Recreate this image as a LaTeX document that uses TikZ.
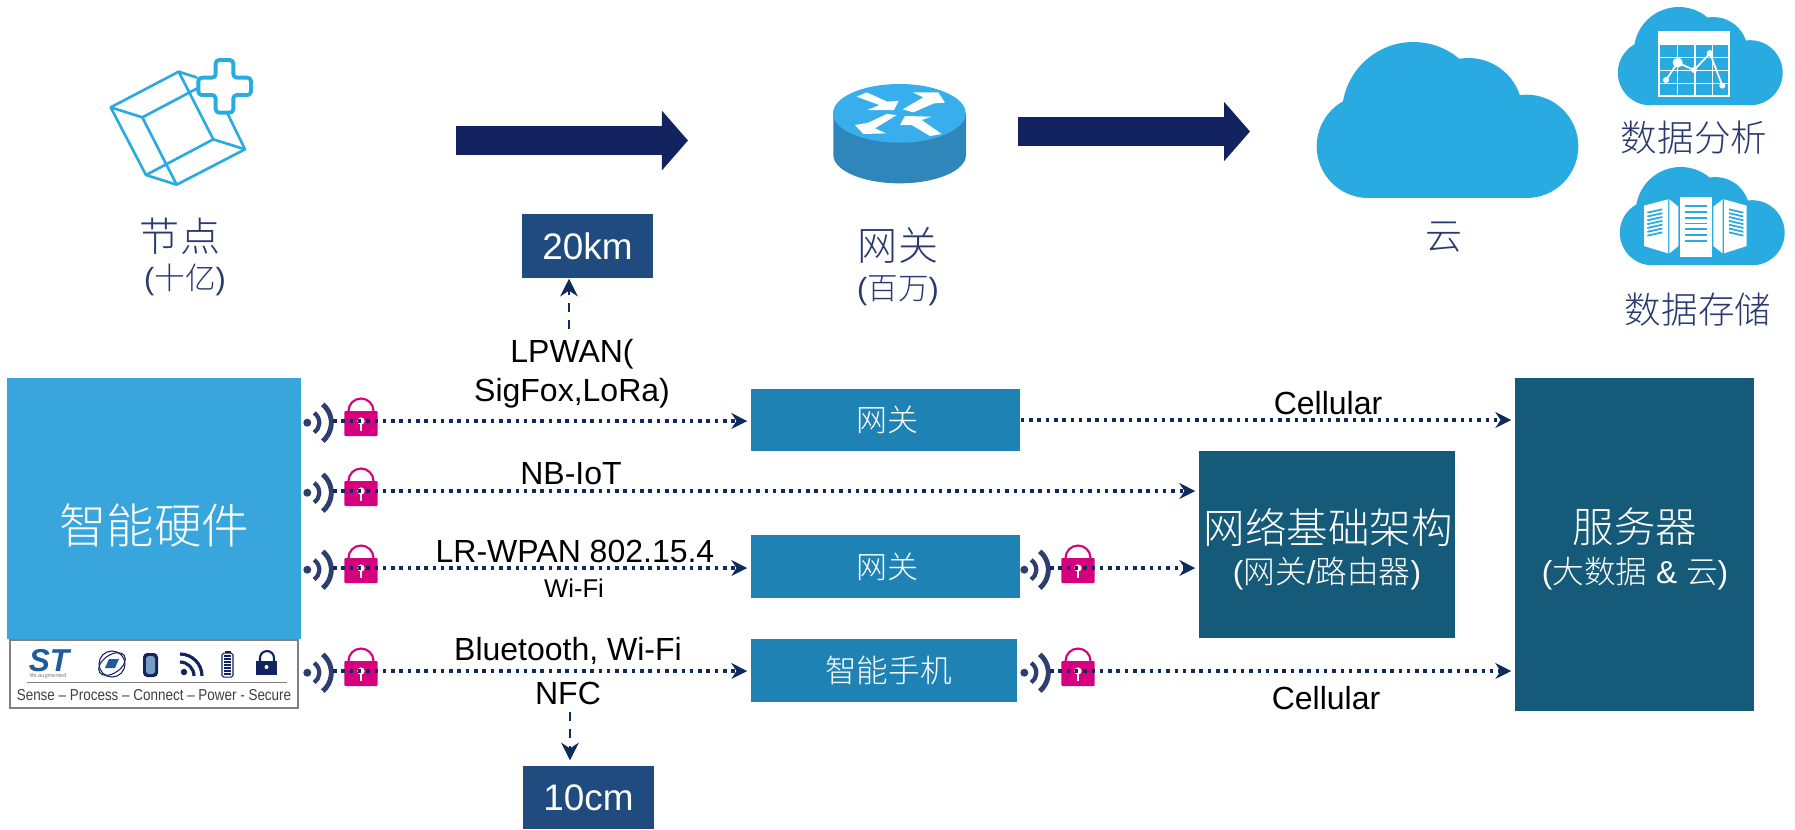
\documentclass[tikz,border=0pt]{standalone}
\usepackage{fontspec}
\setmainfont{Liberation Sans}
\newfontfamily\cjk[UprightFont={* Light}]{Noto Sans CJK SC}
\usetikzlibrary{arrows.meta, positioning, fit}
\definecolor{hwblue}{HTML}{38A6DC}
\definecolor{gwblue}{HTML}{1F82B4}
\definecolor{srvblue}{HTML}{155A78}
\definecolor{kmblue}{HTML}{1F4B7E}
\definecolor{navy}{HTML}{12235F}
\definecolor{dotnavy}{HTML}{0F2A5C}
\definecolor{cloudblue}{HTML}{29ABE2}
\definecolor{lockpink}{HTML}{D6007F}
\definecolor{wavegray}{HTML}{2E3F6E}
\definecolor{slate}{HTML}{2A3A70}
\definecolor{routertop}{HTML}{38AEEC}
\definecolor{routerside}{HTML}{2E86BB}
\definecolor{stblue}{HTML}{1F5C99}
\newcommand{\fsz}[1]{\fontsize{#1}{#1}\selectfont}
\tikzset{
    box/.style={draw=none,inner sep=0pt,align=center,text=white},
    boxtxt/.style={inner sep=0pt,text=white},
    label/.style={inner sep=0pt,align=center,font=\fsz{9.1}},
    title/.style={inner sep=0pt,align=center,text=slate},
    biglink/.style={line width=0.29cm,navy,-{Triangle[length=0.26cm,width=0.58cm]}},
    dotlink/.style={dotnavy,line width=1pt,dash pattern=on 1pt off 1.36pt,shorten >=0.03cm,-{Stealth[length=4.5pt,width=4.5pt]}},
    dashlink/.style={dotnavy,line width=0.8pt,dash pattern=on 2.6pt off 2.2pt,-{Stealth[length=5pt,width=5pt]}},
    seclock/.pic={
        \fill[wavegray] (-53.7,1.7) circle (4);
        \draw[wavegray,line width=1.2pt] (-53.7,1.7) ++(-55:12) arc[start angle=-55,end angle=55,radius=12];
        \draw[wavegray,line width=1.4pt] (-53.7,1.7) ++(-50:24) arc[start angle=-50,end angle=50,radius=24];
        \draw[lockpink,line width=0.6pt] (-12.5,-10) arc[start angle=180,end angle=360,radius=12.5];
        \fill[lockpink,rounded corners=0.3pt] (-16.7,-10) rectangle (16.7,15);
        \draw[white,line width=0.35pt] (0,0) -- (0,10);
        \fill[white] (0,0) circle (3.6);
        \coordinate (-s) at (-28,0);
    },
    cloudicon/.pic={
        \fill[cloudblue] (154,313) circle (155);
        \fill[cloudblue] (289,214) circle (214);
        \fill[cloudblue] (454,211) circle (163);
        \fill[cloudblue] (629,313) circle (155);
        \fill[cloudblue] (154,245) rectangle (629,468);
    },
}
\begin{document}
\begin{tikzpicture}[x=0.01cm,y=-0.01cm]
\useasboundingbox (0,0) rectangle (1795,829);
% Top row
\begin{scope}[shift={(80,30)},scale=0.3333,cloudblue,line width=0.75pt,line join=round]
\draw (296,125) -- (92,232) -- (198,435) -- (290,464) -- (495,358) -- (440,245);
\draw (92,232) -- (187,262) -- (290,464);
\draw (187,262) -- (352,175);
\draw (352,143) -- (296,125) -- (400,328) -- (198,435);
\draw (400,328) -- (495,358);
\filldraw[fill=white,line width=1.1pt,rounded corners=1pt] (407,90) -- (460,90) -- (460,143) -- (513,143) -- (513,195) -- (460,195)
    -- (460,248) -- (407,248) -- (407,195) -- (355,195) -- (355,143) -- (407,143) -- cycle;
\end{scope}
\node[title,font=\fsz{11.4}\cjk] (nodetxt) at (180,236) {节点};
\node[title,font=\fsz{8.7}] (nodecnt) at (185,280) {({\cjk 十亿})};
\begin{scope}[shift={(810,60)},scale=0.3333]
\fill[routerside] (70,160) -- (70,285) arc[start angle=180,end angle=0,x radius=199,y radius=85] -- (468,160) -- cycle;
\fill[routertop] (268,160) ellipse[x radius=199,y radius=88];
\fill[white] (140,110) -- (170,97) -- (232,125) -- (266,122) -- (252,150) -- (172,150) -- (208,135) -- cycle;
\fill[white] (278,148) -- (310,157) -- (372,130) -- (405,128) -- (385,97) -- (308,97) -- (340,112) -- cycle;
\fill[white] (260,165) -- (230,162) -- (175,188) -- (135,195) -- (160,222) -- (228,220) -- (195,205) -- cycle;
\fill[white] (395,222) -- (360,228) -- (305,195) -- (270,195) -- (285,168) -- (365,170) -- (335,180) -- cycle;
\end{scope}
\node[title,font=\fsz{11.4}\cjk] (gwtxt) at (898,245) {网关};
\node[title,font=\fsz{8.7}] (gwcnt) at (898,291) {({\cjk 百万})};
\pic[scale=0.3333] at (1317,42) {cloudicon};
\node[title,font=\fsz{10.5}\cjk] (cloudtxt) at (1444,237) {云};
\pic[scale=0.21] at (1618,7) {cloudicon};
\begin{scope}[shift={(1600,0)},scale=0.3333]
\fill[white] (174,92) rectangle (390,290);
\fill[cloudblue] (180,134) rectangle (384,284);
\draw[white,line width=0.3pt] (232,134) -- (232,284) (285,134) -- (285,284) (338,134) -- (338,284)
    (180,172) -- (384,172) (180,212) -- (384,212) (180,250) -- (384,250);
\draw[white,line width=0.5pt] (198,240) -- (233,188) -- (282,210) -- (330,160) -- (367,257);
\fill[white] (198,240) circle (9) (233,188) circle (15) (282,210) circle (9) (330,160) circle (10) (367,257) circle (9);
\end{scope}
\node[title,font=\fsz{10.4}\cjk] (anatxt) at (1694,138) {数据分析};
\pic[scale=0.21] at (1620,167) {cloudicon};
\begin{scope}[shift={(1600,160)},scale=0.3333]
\fill[white] (239,111) rectangle (336,290);
\fill[white] (132,137) -- (204,118) -- (204,280) -- (132,258) -- cycle;
\fill[white] (208,118) -- (235,140) -- (235,258) -- (208,280) -- cycle;
\fill[white] (440,137) -- (372,118) -- (372,280) -- (440,258) -- cycle;
\fill[white] (368,118) -- (340,140) -- (340,258) -- (368,280) -- cycle;
\foreach \i in {0,...,6}{
    \draw[cloudblue,line width=0.55pt] (255,138+17.5*\i) -- (320,138+17.5*\i);
    \draw[cloudblue,line width=0.5pt] (142,158+11.5*\i) -- (187,148+11.5*\i);
    \draw[cloudblue,line width=0.5pt] (430,158+11.5*\i) -- (387,148+11.5*\i);
}
\end{scope}
\node[title,font=\fsz{10.4}\cjk] (stotxt) at (1698,310) {数据存储};
% Big arrows
\coordinate (nodeout) at (456,140.5);
\coordinate (gwin) at (688,140.5);
\coordinate (gwout) at (1018,131.5);
\coordinate (cloudin) at (1250,131.5);
\draw[biglink] (nodeout) -- (gwin);
\draw[biglink] (gwout) -- (cloudin);
% Range boxes
\node[box,fill=kmblue,minimum width=1.31cm,minimum height=0.64cm,font=\fsz{10.5}] (km20) at (587.5,246) {20km};
\node[box,fill=kmblue,minimum width=1.31cm,minimum height=0.63cm,font=\fsz{10.5}] (km10) at (588.5,797.5) {10cm};
% Boxes
\node[box,fill=hwblue,minimum width=2.94cm,minimum height=2.61cm] (hw) at (154,508.5) {};
\node[boxtxt,font=\fsz{13.5}\cjk] (hwtxt) at (154,525) {智能硬件};
\node[box,fill=gwblue,minimum width=2.69cm,minimum height=0.62cm,font=\fsz{8.8}\cjk] (gw1) at (885.5,420) {\hspace*{0.04cm}网关};
\node[box,fill=gwblue,minimum width=2.69cm,minimum height=0.63cm,font=\fsz{8.8}\cjk] (gw2) at (885.5,566.5) {\hspace*{0.04cm}网关};
\node[box,fill=gwblue,minimum width=2.66cm,minimum height=0.63cm,font=\fsz{9}\cjk] (phone) at (884,670.5) {\hspace*{0.09cm}智能手机};
\node[box,fill=srvblue,minimum width=2.56cm,minimum height=1.87cm] (infra) at (1327,544.5) {};
\node[boxtxt,font=\fsz{11.8}\cjk] (infratxt) at (1328,527) {网络基础架构};
\node[boxtxt,font=\fsz{9}] (infrasub) at (1327,574) {({\cjk 网关}/{\cjk 路由器})};
\node[box,fill=srvblue,minimum width=2.39cm,minimum height=3.33cm] (server) at (1634.5,544.5) {};
\node[boxtxt,font=\fsz{11.8}\cjk] (servertxt) at (1635,527) {服务器};
\node[boxtxt,font=\fsz{9}] (serversub) at (1635,574) {({\cjk 大数据} \& {\cjk 云})};
% Logo strip
\node[draw=gray,line width=0.6pt,fill=white,minimum width=2.88cm,minimum height=0.68cm,inner sep=0pt] (strip) at (154,674) {};
\node[inner sep=0pt,text=stblue,font=\fsz{9}\bfseries\itshape] (stlogo) at (49,661) {ST};
\node[inner sep=0pt,text=gray,font=\fsz{1.6}] (sttag) at (48,676) {life.augmented};
\draw[navy,line width=0.3pt] (112,664) circle (13);
\draw[navy,line width=0.3pt,rotate around={35:(112,664)}] (112,664) ellipse[x radius=15,y radius=9];
\fill[stblue] (105,668) -- (109,659) -- (119,659) -- (115,668) -- cycle;
\fill[navy,rounded corners=1.2pt] (143,653) rectangle (158,677);
\fill[stblue!60!white,rounded corners=0.8pt] (146,656) rectangle (155,674);
\fill[navy] (184,672) circle (3.2);
\draw[navy,line width=0.9pt] (180,662) arc[start angle=270,end angle=360,radius=14];
\draw[navy,line width=0.9pt] (180,654) arc[start angle=270,end angle=360,radius=22];
\draw[navy,line width=0.3pt,rounded corners=0.5pt] (222,653) rectangle (233,677);
\foreach \i in {0,...,6}{\draw[navy,line width=0.35pt] (224,656+3*\i) -- (231,656+3*\i);}
\fill[navy] (224.5,650.5) rectangle (230.5,653);
\draw[navy,line width=0.6pt] (260,661) -- (260,658) arc[start angle=180,end angle=360,radius=7] -- (274,661);
\fill[navy] (256,661) rectangle (277,675);
\fill[white] (266.5,667) circle (2);
\draw[gray,line width=0.3pt] (27,682) -- (287,682);
\node[inner sep=0pt,text=black!75,font=\fsz{4.5}] (sttxt) at (154,695) {\scalebox{0.85}[1]{Sense -- Process -- Connect -- Power - Secure}};
% Links
\pic (lk1) at (361,421) {seclock};
\pic (lk2) at (361,491) {seclock};
\pic (lk3) at (361,568) {seclock};
\pic (lk4) at (361,671) {seclock};
\pic (lk5) at (1078,568) {seclock};
\pic (lk6) at (1078,671) {seclock};
\draw[dotlink] (lk1-s) -- (lk1-s -| gw1.west);
\draw[dotlink] (lk2-s) -- (lk2-s -| infra.west);
\draw[dotlink] (lk3-s) -- (lk3-s -| gw2.west);
\draw[dotlink] (lk4-s) -- (lk4-s -| phone.west);
\draw[dotlink] (gw1.east) -- (gw1.east -| server.west);
\draw[dotlink] (lk5-s) -- (lk5-s -| infra.west);
\draw[dotlink] (lk6-s) -- (lk6-s -| server.west);
% Labels
\node[label] (lpwan) at (572,374) {LPWAN(\\[0.07cm]SigFox,LoRa)};
\node[label] (cell1) at (1328,403) {Cellular};
\node[label] (nbiot) at (571,474) {NB-IoT};
\node[label] (lrwpan) at (575,551) {LR-WPAN 802.15.4};
\node[label,font=\fsz{7.3}] (wifi) at (574,588) {Wi-Fi};
\node[label] (bt) at (568,651) {Bluetooth, Wi-Fi};
\node[label] (nfc) at (568,693) {NFC};
\node[label] (cell2) at (1326,698) {Cellular};
\coordinate (upstart) at (569,329);
\coordinate (downstart) at (570,712);
\draw[dashlink] (upstart) -- (upstart |- km20.south);
\draw[dashlink,shorten >=0.05cm] (downstart) -- (downstart |- km10.north);
\end{tikzpicture}
\end{document}
